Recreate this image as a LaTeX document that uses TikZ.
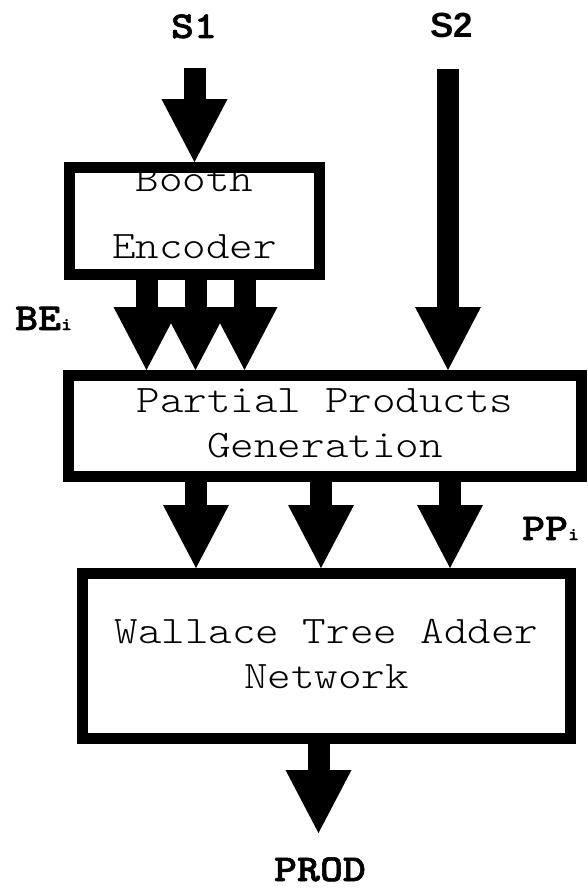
\documentclass[tikz,border=0pt]{standalone}
\usepackage{fontspec}
\usepackage{tikz}
\usetikzlibrary{arrows.meta}
\newfontfamily\boxfont{lmmonolt10-regular.otf}[FakeStretch=1.15]
\newfontfamily\labfont{lmmonolt10-bold.otf}[FakeStretch=1.15,FakeBold=1.5]
\newfontfamily\stwofont{Liberation Sans}
\newcommand{\dpfix}[1]{\rule[-#1]{0pt}{0pt}}
\newcommand{\sub}[1]{{\fontsize{18}{18}\selectfont #1}}

\begin{document}
\begin{tikzpicture}[x=1pt,y=-1pt,
  block/.style={draw,line width=11pt,align=center,inner sep=0pt,
    font=\boxfont\fontsize{39}{45}\selectfont},
  lab/.style={inner sep=0pt,font=\labfont\fontsize{38}{38}\selectfont},
  bigarrow/.style={line width=22pt,-{Triangle[width=66pt,length=63pt,line width=0pt]}}]
\useasboundingbox (0,0) rectangle (587,888);
\node [block,minimum width=250pt,minimum height=101pt] (booth) at (194.5,221)
  {Booth\\[22pt]Encoder\dpfix{16pt}};
\node [block,minimum width=513pt,minimum height=101pt] (pp) at (325,426)
  {Partial Products\\Generation\dpfix{5pt}};
\node [block,minimum width=488pt,minimum height=165pt] (wal) at (326.5,656)
  {Wallace Tree Adder\\Network\dpfix{5pt}};
\node [lab,anchor=base] (s1) at (194,38) {S1};
\node [inner sep=0pt,anchor=base,font=\stwofont\bfseries\fontsize{35}{35}\selectfont] (s2) at (452,38) {S2};
\node [lab,anchor=base west] (bei) at (15,330) {BE\sub{i}};
\node [lab,anchor=base west] (ppi) at (522,540) {PP\sub{i}};
\node [lab,anchor=base] (prod) at (320,881) {PROD};
\coordinate (s1in) at (194.5,68);
\coordinate (s2in) at (448,69);
\coordinate (prodtip) at (318.5,833);
\draw [bigarrow] (s1in) -- (booth.north);
\foreach \dx in {-48,1,50}
  \draw [bigarrow] ([xshift=\dx pt]booth.south) -- ([xshift=\dx pt]booth.south |- pp.north);
\draw [bigarrow] (s2in) -- (s2in |- pp.north);
\foreach \dx in {-129,-4,125}
  \draw [bigarrow] ([xshift=\dx pt]pp.south) -- ([xshift=\dx pt]pp.south |- wal.north);
\draw [bigarrow] (wal.south -| prodtip) -- (prodtip);
\end{tikzpicture}
\end{document}
